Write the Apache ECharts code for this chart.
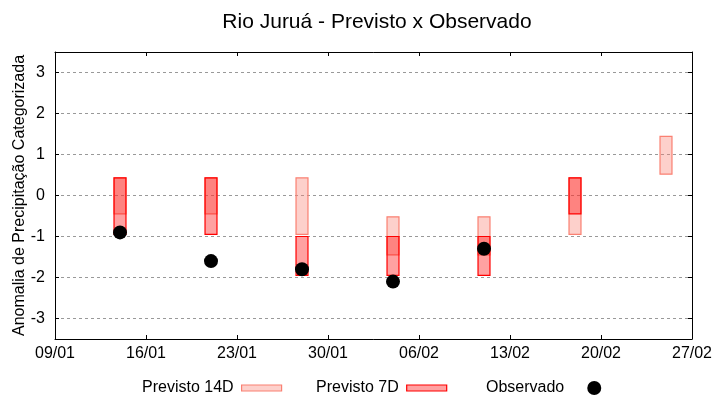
<!DOCTYPE html>
<html>
<head>
<meta charset="utf-8">
<script src="https://cdn.jsdelivr.net/npm/echarts@6/dist/echarts.min.js"></script>
<style>html,body{margin:0;padding:0;background:#fff}#c{width:720px;height:400px}</style>
</head>
<body>
<div id="c"></div>
<script>
// ---- data ----
var startDate = '09/01';
var tickLabels = ['09/01', '16/01', '23/01', '30/01', '06/02', '13/02', '20/02', '27/02'];
var dates = ['14/01', '21/01', '28/01', '04/02', '11/02', '18/02', '25/02'];
var prev14Low  = [-0.45, -0.45, -0.95, -1.45, -1.45, -0.95, 0.52];
var prev14High = [0.43, 0.43, 0.43, -0.52, -0.52, 0.43, 1.44];
var prev7Low   = [-0.95, -0.95, -1.95, -1.95, -1.95, -0.45, null];
var prev7High  = [0.43, 0.43, -1.0, -1.0, -1.0, 0.43, null];
var observed   = [-0.9, -1.6, -1.8, -2.1, -1.3, null, null];

function dayOffset(s) {
  var p = s.split('/'), q = startDate.split('/');
  return (Date.UTC(2025, +p[1] - 1, +p[0]) - Date.UTC(2025, +q[1] - 1, +q[0])) / 86400000;
}
var xs = dates.map(dayOffset);
var maxDay = dayOffset(tickLabels[tickLabels.length - 1]);

function rangeData(lo, hi) {
  var out = [];
  for (var i = 0; i < xs.length; i++) {
    if (lo[i] != null && hi[i] != null) out.push([xs[i], lo[i], hi[i]]);
  }
  return out;
}
var obsData = [];
for (var i = 0; i < xs.length; i++) if (observed[i] != null) obsData.push([xs[i], observed[i]]);

var FONT = 'Liberation Sans';
var c14 = 'rgba(250,128,114,0.37)', b14 = '#fa8072';
var c7 = 'rgba(255,0,0,0.37)', b7 = '#ff0000';

function makeRender(fill, stroke) {
  return function (params, api) {
    var x = api.value(0), lo = api.value(1), hi = api.value(2);
    var p1 = api.coord([x, hi]);
    var p2 = api.coord([x, lo]);
    var w = api.size([0.92, 0])[0];
    return {
      type: 'rect',
      shape: { x: p1[0] - w / 2, y: p1[1], width: w, height: p2[1] - p1[1] },
      style: { fill: fill, stroke: stroke, lineWidth: 1.2 }
    };
  };
}

var chart = echarts.init(document.getElementById('c'), null, { renderer: 'canvas' });
var axisLineStyle = { show: true, onZero: false, lineStyle: { color: '#000', width: 1 } };
var tickStyle = { show: true, inside: true, length: 4, lineStyle: { color: '#000' } };
chart.setOption({
  animation: false,
  backgroundColor: '#ffffff',
  textStyle: { fontFamily: FONT },
  title: {
    text: 'Rio Juruá - Previsto x Observado',
    left: 372, top: 7, textAlign: 'center',
    textStyle: { fontFamily: FONT, fontSize: 21, fontWeight: 'normal', color: '#000' }
  },
  grid: { left: 55, right: 28, top: 52, bottom: 61, containLabel: false, outerBoundsMode: 'none' },
  legend: [
    { data: [{ name: 'Previsto 14D', icon: 'rect', itemStyle: { color: c14, borderColor: b14, borderWidth: 1.2 } }],
      left: 142, top: 380, padding: 0, align: 'right', itemWidth: 40, itemHeight: 6,
      textStyle: { fontFamily: FONT, fontSize: 16, color: '#000', padding: [0, 3, 0, 0] } },
    { data: [{ name: 'Previsto 7D', icon: 'rect', itemStyle: { color: c7, borderColor: b7, borderWidth: 1.2 } }],
      left: 316, top: 380, padding: 0, align: 'right', itemWidth: 40, itemHeight: 6,
      textStyle: { fontFamily: FONT, fontSize: 16, color: '#000', padding: [0, 3, 0, 0] } },
    { data: [{ name: 'Observado', icon: 'circle', itemStyle: { color: '#000' } }],
      left: 486, top: 380, padding: 0, align: 'right', itemWidth: 14, itemHeight: 14,
      textStyle: { fontFamily: FONT, fontSize: 16, color: '#000', padding: [0, 18, 0, 0] } }
  ],
  xAxis: [
    {
      type: 'value', min: 0, max: maxDay, interval: 7, position: 'bottom',
      axisLine: axisLineStyle, axisTick: tickStyle,
      axisLabel: {
        fontFamily: FONT, fontSize: 16, color: '#000', margin: 7,
        formatter: function (v) { return tickLabels[Math.round(v / 7)]; }
      },
      splitLine: { show: false }
    },
    {
      type: 'value', min: 0, max: maxDay, interval: 7, position: 'top',
      axisLine: axisLineStyle, axisTick: tickStyle,
      axisLabel: { show: false },
      splitLine: { show: false }
    }
  ],
  yAxis: [
    {
      type: 'value', min: -3.5, max: 3.5, splitNumber: 7, position: 'left',
      name: 'Anomalia de Precipitação Categorizada', nameLocation: 'middle', nameGap: 27,
      nameMoveOverlap: false,
      nameTextStyle: { fontFamily: FONT, fontSize: 16, color: '#000' },
      axisLine: axisLineStyle, axisTick: tickStyle,
      axisLabel: {
        fontFamily: FONT, fontSize: 16, color: '#000', margin: 10,
        showMinLabel: false, showMaxLabel: false,
        formatter: function (v) { return Math.abs(v - Math.round(v)) < 1e-6 ? String(Math.round(v)) : ''; }
      },
      splitLine: { show: true, lineStyle: { color: '#999', width: 1, type: [3, 3] } }
    },
    {
      type: 'value', min: -3.5, max: 3.5, splitNumber: 7, position: 'right',
      axisLine: axisLineStyle, axisTick: tickStyle,
      axisLabel: { show: false },
      splitLine: { show: false }
    }
  ],
  series: [
    {
      name: 'Previsto 14D', type: 'custom', xAxisIndex: 0, yAxisIndex: 0, z: 2,
      renderItem: makeRender(c14, b14),
      itemStyle: { color: c14, borderColor: b14 },
      encode: { x: 0, y: [1, 2] },
      data: rangeData(prev14Low, prev14High)
    },
    {
      name: 'Previsto 7D', type: 'custom', xAxisIndex: 0, yAxisIndex: 0, z: 3,
      renderItem: makeRender(c7, b7),
      itemStyle: { color: c7, borderColor: b7 },
      encode: { x: 0, y: [1, 2] },
      data: rangeData(prev7Low, prev7High)
    },
    {
      name: 'Observado', type: 'scatter', xAxisIndex: 0, yAxisIndex: 0, z: 4,
      symbol: 'circle', symbolSize: 14,
      itemStyle: { color: '#000', opacity: 1 },
      data: obsData
    }
  ]
});
</script>
</body>
</html>
